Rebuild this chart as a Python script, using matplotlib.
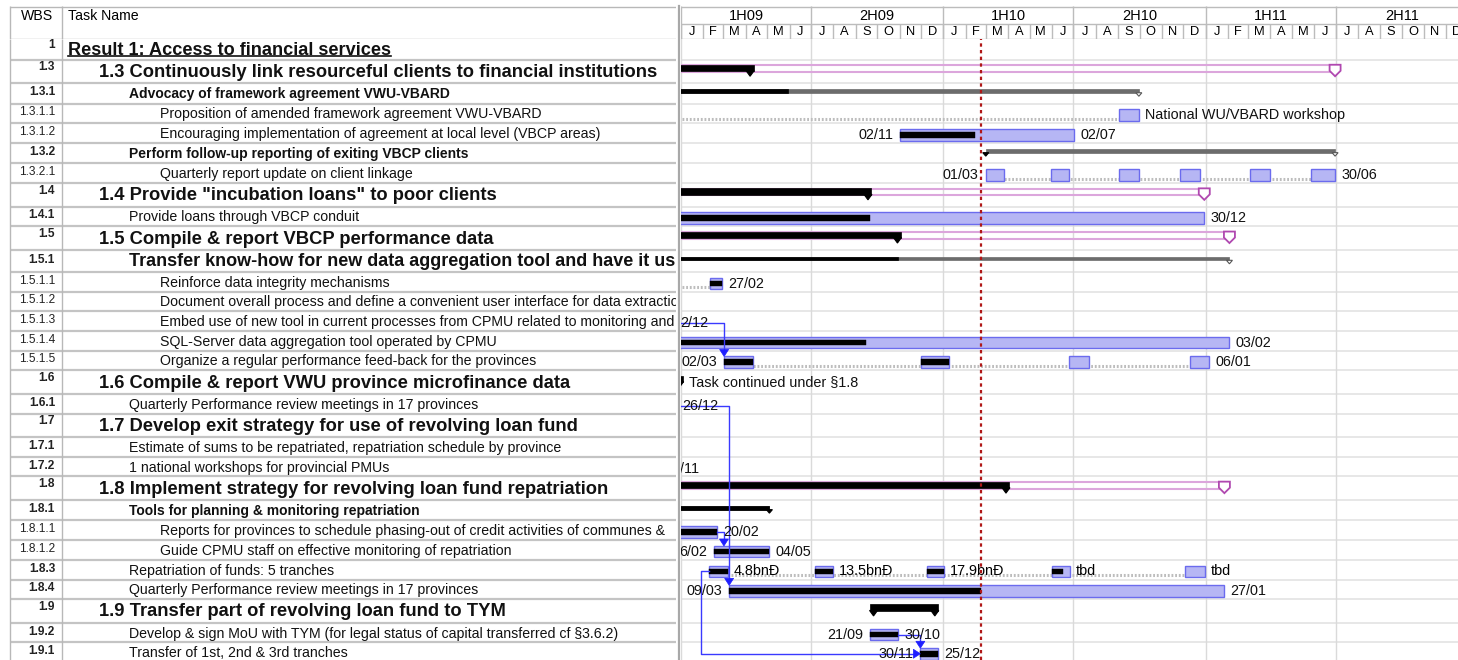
import datetime as dt
import numpy as np
import matplotlib
matplotlib.use('Agg')
import matplotlib.pyplot as plt
import matplotlib.dates as mdates
from matplotlib.patches import Rectangle, Polygon
from matplotlib.lines import Line2D
from matplotlib.transforms import offset_copy

plt.rcParams['font.family'] = ['Liberation Sans', 'DejaVu Sans']

D = dt.date

# ---- outline (table part) ----
wbs = ['1', '1.3', '1.3.1', '1.3.1.1', '1.3.1.2', '1.3.2', '1.3.2.1',
       '1.4', '1.4.1', '1.5', '1.5.1', '1.5.1.1', '1.5.1.2', '1.5.1.3',
       '1.5.1.4', '1.5.1.5', '1.6', '1.6.1', '1.7', '1.7.1', '1.7.2',
       '1.8', '1.8.1', '1.8.1.1', '1.8.1.2', '1.8.3', '1.8.4',
       '1.9', '1.9.2', '1.9.1']
task_names = [
    'Result 1: Access to financial services',
    '1.3 Continuously link resourceful clients to financial institutions',
    'Advocacy of framework agreement VWU-VBARD',
    'Proposition of amended framework agreement VWU-VBARD',
    'Encouraging implementation of agreement at local level (VBCP areas)',
    'Perform follow-up reporting of exiting VBCP clients',
    'Quarterly report update on client linkage',
    '1.4 Provide "incubation loans" to poor clients',
    'Provide loans through VBCP conduit',
    '1.5 Compile & report VBCP performance data',
    'Transfer know-how for new data aggregation tool and have it used by CPMU',
    'Reinforce data integrity mechanisms',
    'Document overall process and define a convenient user interface for data extraction',
    'Embed use of new tool in current processes from CPMU related to monitoring and reporting',
    'SQL-Server data aggregation tool operated by CPMU',
    'Organize a regular performance feed-back for the provinces',
    '1.6 Compile & report VWU province microfinance data',
    'Quarterly Performance review meetings in 17 provinces',
    '1.7 Develop exit strategy for use of revolving loan fund',
    'Estimate of sums to be repatriated, repatriation schedule by province',
    '1 national workshops for provincial PMUs',
    '1.8 Implement strategy for revolving loan fund repatriation',
    'Tools for planning & monitoring repatriation',
    'Reports for provinces to schedule phasing-out of credit activities of communes & municipalities',
    'Guide CPMU staff on effective monitoring of repatriation',
    'Repatriation of funds: 5 tranches',
    'Quarterly Performance review meetings in 17 provinces',
    '1.9 Transfer part of revolving loan fund to TYM',
    'Develop & sign MoU with TYM (for legal status of capital transferred cf §3.6.2)',
    'Transfer of 1st, 2nd & 3rd tranches',
]
row_kind = ['title', 'phase', 'group', 'sub', 'sub', 'group', 'sub',
            'phase', 'task', 'phase', 'group_big', 'sub', 'sub', 'sub',
            'sub', 'sub', 'phase', 'task', 'phase', 'task', 'task',
            'phase', 'group', 'sub', 'sub', 'task', 'task',
            'phase', 'task', 'task']

# ---- phase summaries: start, reached so far, finish ----
phase_wbs = ['1.3', '1.4', '1.5', '1.6', '1.8', '1.9']
phase_start = [D(2008, 6, 2), D(2008, 6, 2), D(2008, 6, 2), D(2008, 6, 2),
               D(2008, 6, 2), D(2009, 9, 21)]
phase_done = [D(2009, 4, 12), D(2009, 9, 23), D(2009, 11, 3), D(2009, 1, 4),
              D(2010, 4, 3), D(2009, 12, 25)]
phase_finish = [D(2011, 6, 30), D(2010, 12, 30), D(2011, 2, 3), D(2009, 1, 4),
                D(2011, 1, 27), D(2009, 12, 25)]
phase_note = ['', '', '', 'Task continued under §1.8', '', '']

# ---- sub-summaries ----
group_wbs = ['1.3.1', '1.3.2', '1.5.1', '1.8.1']
group_start = [D(2008, 6, 2), D(2010, 3, 1), D(2008, 6, 2), D(2008, 6, 2)]
group_done = [D(2009, 5, 30), D(2010, 3, 1), D(2009, 10, 30), D(2009, 5, 4)]
group_finish = [D(2010, 9, 30), D(2011, 6, 30), D(2011, 2, 3), D(2009, 5, 4)]

# ---- plain tasks ----
task_wbs = ['1.3.1.2', '1.4.1', '1.5.1.3', '1.5.1.4', '1.6.1', '1.7.2',
            '1.8.1.1', '1.8.1.2', '1.8.4', '1.9.2', '1.9.1']
task_start = [D(2009, 11, 2), D(2008, 6, 2), D(2008, 10, 1), D(2008, 6, 2),
              D(2008, 10, 1), D(2008, 10, 1), D(2008, 12, 1), D(2009, 2, 16),
              D(2009, 3, 9), D(2009, 9, 21), D(2009, 11, 30)]
task_finish = [D(2010, 7, 2), D(2010, 12, 30), D(2008, 12, 12), D(2011, 2, 3),
               D(2008, 12, 26), D(2008, 11, 30), D(2009, 2, 20), D(2009, 5, 4),
               D(2011, 1, 27), D(2009, 10, 30), D(2009, 12, 25)]
task_done = [D(2010, 2, 14), D(2009, 9, 21), D(2008, 12, 12), D(2009, 9, 15),
             D(2008, 12, 26), D(2008, 11, 30), D(2009, 2, 20), D(2009, 5, 4),
             D(2010, 2, 23), D(2009, 10, 30), D(2009, 12, 25)]

# ---- split tasks: (segment start, segment end, done up to) ----
split_wbs = ['1.3.1.1', '1.3.2.1', '1.5.1.1', '1.5.1.5', '1.8.3']
split_start = [D(2008, 6, 2), D(2010, 3, 1), D(2008, 6, 2), D(2009, 3, 2),
               D(2009, 2, 9)]
split_segments = [
    [(D(2010, 9, 2), D(2010, 9, 30), None)],
    [(D(2010, 3, 1), D(2010, 3, 26), None), (D(2010, 5, 31), D(2010, 6, 25), None),
     (D(2010, 9, 2), D(2010, 9, 30), None), (D(2010, 11, 26), D(2010, 12, 24), None),
     (D(2011, 3, 3), D(2011, 3, 31), None), (D(2011, 5, 27), D(2011, 6, 30), None)],
    [(D(2009, 2, 10), D(2009, 2, 27), D(2009, 2, 27))],
    [(D(2009, 3, 2), D(2009, 4, 11), D(2009, 4, 11)),
     (D(2009, 12, 1), D(2010, 1, 9), D(2010, 1, 9)),
     (D(2010, 6, 25), D(2010, 7, 23), None), (D(2010, 12, 10), D(2011, 1, 6), None)],
    [(D(2009, 2, 9), D(2009, 3, 7), D(2009, 3, 7)),
     (D(2009, 7, 6), D(2009, 7, 31), D(2009, 7, 31)),
     (D(2009, 12, 9), D(2010, 1, 2), D(2010, 1, 2)),
     (D(2010, 6, 1), D(2010, 6, 26), D(2010, 6, 16)),
     (D(2010, 12, 3), D(2010, 12, 31), None)],
]
split_dates_shown = [False, True, True, True, False]
split_note = ['National WU/VBARD workshop', '', '', '', '']
tranche_notes = ['4.8bnĐ', '13.5bnĐ', '17.9bnĐ', 'tbd', 'tbd']

# ---- dependencies ----
links = [('1.5.1.3', '1.5.1.5', 'FS'), ('1.6.1', '1.8.4', 'FS'),
         ('1.8.1.1', '1.8.1.2', 'FS'), ('1.9.2', '1.9.1', 'FS'),
         ('1.8.3', '1.9.1', 'SS')]

status_date = D(2010, 2, 23)
half_labels = ['1H09', '2H09', '1H10', '2H10', '1H11', '2H11']
month_letters = list('JFMAMJJASOND')

# ---- colours ----
BLUE_FILL = '#b6b6f4'
BLUE_EDGE = '#6b6bee'
PINK = '#dca6dc'
PURPLE = '#b048b0'
GREY_BAR = '#6c6c6c'
SPLIT_GREY = '#bdbdbd'
LINK = '#3a3aff'
LABEL_SIZE = 10.4

# ---- figure layout (pixel based) ----
W, H = 1458, 660
fig = plt.figure(figsize=(W / 100, H / 100), dpi=100)


def place(x0, y0, x1, y1):
    return fig.add_axes([x0 / W, 1 - y1 / H, (x1 - x0) / W, (y1 - y0) / H])


HEAD_TOP, BODY_TOP, GANTT_X, TBL_RIGHT = 6, 38.5, 681, 676
tbl = place(0, BODY_TOP, TBL_RIGHT, H)
gnt = place(GANTT_X, BODY_TOP, W, H)
tbl_head = place(0, HEAD_TOP, TBL_RIGHT, BODY_TOP)
gnt_head = place(GANTT_X, HEAD_TOP, W, BODY_TOP)
for a in (tbl, gnt, tbl_head, gnt_head):
    a.axis('off')

body_h = H - BODY_TOP
head_h = BODY_TOP - HEAD_TOP
t0 = mdates.date2num(D(2009, 1, 1))
span_days = 1081
DPP = span_days / (W - GANTT_X)   # days per pixel on the time scale

tbl.set_xlim(0, TBL_RIGHT)
tbl.set_ylim(body_h, 0)
tbl_head.set_xlim(0, TBL_RIGHT)
tbl_head.set_ylim(head_h, 0)
gnt.set_xlim(t0, t0 + span_days)
gnt.set_ylim(body_h, 0)
gnt_head.set_xlim(t0, t0 + span_days)
gnt_head.set_ylim(head_h, 0)

# row geometry from outline level
kind_height = {'title': 21, 'phase': 23.5, 'group': 20.5, 'group_big': 22,
               'task': 19.7, 'sub': 19.7}
tops = np.concatenate([[0], np.cumsum([kind_height[k] for k in row_kind])])
centers = (tops[:-1] + tops[1:]) / 2
row_y = dict(zip(wbs, centers))

# ---- table ----
name_style = {
    'title': dict(x=68, size=13.1, weight='bold'),
    'phase': dict(x=99, size=13.2, weight='bold'),
    'group': dict(x=129, size=10, weight='bold'),
    'group_big': dict(x=129, size=13, weight='bold'),
    'task': dict(x=129, size=10.2, weight='normal'),
    'sub': dict(x=160, size=10.2, weight='normal'),
}
tbl.hlines(tops[1:], 10, TBL_RIGHT, color='#c4c4c4', lw=1.6)
tbl.vlines([10, 62], 0, body_h, color='#b8b8b8', lw=1)
title_txt = None
name_txts = []
for code, name, kind, c in zip(wbs, task_names, row_kind, centers):
    st = name_style[kind]
    big = kind in ('title', 'phase')
    tbl.text(55, c - (4 if big else 1), code, ha='right', va='center',
             fontsize=8.6, weight='bold' if kind != 'sub' else 'normal',
             color='#222222')
    t = tbl.text(st['x'], c + 1, name, ha='left', va='center', fontsize=st['size'],
                 weight=st['weight'], color='#111111', clip_on=True)
    name_txts.append(t)
    if kind == 'title':
        title_txt = t

# table header
tbl_head.hlines([0.5, head_h], 10, TBL_RIGHT, color='#b8b8b8', lw=1)
tbl_head.vlines([10, 62], 0, head_h, color='#b8b8b8', lw=1)
tbl_head.text(37, 10, 'WBS', ha='center', va='center', fontsize=10.2)
tbl_head.text(68, 10, 'Task Name', ha='left', va='center', fontsize=10.2)
fig.add_artist(Line2D([679 / W] * 2, [0, 1 - HEAD_TOP / H],
                      transform=fig.transFigure, color='#a8a8a8', lw=1.6))

# ---- time scale header ----
half_starts = [D(2009 + i // 2, 1 + 6 * (i % 2), 1) for i in range(7)]
gnt_head.hlines([0.5, 17.5, head_h], t0, t0 + span_days, color='#bcbcbc', lw=1)
for i, lab in enumerate(half_labels):
    a, b = mdates.date2num(half_starts[i]), mdates.date2num(half_starts[i + 1])
    gnt_head.vlines(a, 0, head_h, color='#bcbcbc', lw=1)
    gnt_head.text((a + b) / 2, 10, lab, ha='center', va='center', fontsize=10.5,
                  clip_on=True)
for k in range(36):
    a = mdates.date2num(D(2009 + k // 12, k % 12 + 1, 1))
    b = mdates.date2num(D(2009 + (k + 1) // 12, (k + 1) % 12 + 1, 1))
    gnt_head.vlines(a, 17.5, head_h, color='#bcbcbc', lw=1)
    gnt_head.text((a + b) / 2, 26, month_letters[k % 12], ha='center',
                  va='center', fontsize=9.3, clip_on=True)

# ---- gantt body grid ----
for y in tops[1:]:
    gnt.axhline(y, color='#e3e3e3', lw=1.2, zorder=0)
for d in half_starts:
    gnt.axvline(mdates.date2num(d), color='#dadada', lw=1, zorder=0)


def num(d):
    return mdates.date2num(d)


def shifted(dx):
    return offset_copy(gnt.transData, fig=fig, x=dx, y=0, units='dots')


def label(x, y, s, side):
    if side == 'right':
        gnt.text(x, y, s, transform=shifted(6), ha='left', va='center',
                 fontsize=LABEL_SIZE, color='#111111', clip_on=True, zorder=6)
    else:
        gnt.text(x, y, s, transform=shifted(-7), ha='right', va='center',
                 fontsize=LABEL_SIZE, color='#111111', clip_on=True, zorder=6)


def cap(x, c, color, w=4.0, depth=5.0, edge=None):
    gnt.add_patch(Polygon([(x - w * DPP, c - 0.5), (x + w * DPP, c - 0.5),
                           (x, c + depth)], closed=True, fc=color,
                          ec=edge or color, lw=0.8, zorder=4))


# phase summaries
for code, s, d, f, note in zip(phase_wbs, phase_start, phase_done,
                               phase_finish, phase_note):
    c = row_y[code]
    s, d, f = num(s), num(d), num(f)
    if f > d:
        gnt.add_patch(Rectangle((s, c - 6), f - s, 6.5, fill=False, ec=PINK,
                                lw=1.5, zorder=2))
        gnt.add_patch(Polygon([(f - 5.5 * DPP, c - 6.5), (f + 5.5 * DPP, c - 6.5),
                               (f + 5.5 * DPP, c - 0.5), (f, c + 5),
                               (f - 5.5 * DPP, c - 0.5)], closed=True, fc='white',
                              ec=PURPLE, lw=1.3, zorder=4))
    gnt.add_patch(Rectangle((s, c - 6.5), d - s, 6.5, fc='black', ec='black',
                            lw=0.5, zorder=3))
    cap(s + 3.5 * DPP, c, 'black')
    cap(d - 3.5 * DPP, c, 'black')
    if note:
        label(d, c, note, 'right')

# sub-summaries
for code, s, d, f in zip(group_wbs, group_start, group_done, group_finish):
    c = row_y[code]
    s, d, f = num(s), num(d), num(f)
    gnt.add_patch(Rectangle((s, c - 4), f - s, 3.5, fc=GREY_BAR, ec=GREY_BAR,
                            lw=0.5, zorder=3))
    if d > s:
        gnt.add_patch(Rectangle((s, c - 4), d - s, 3.5, fc='black', ec='black',
                                lw=0.5, zorder=3))
    for x in (s, f):
        done = x <= d
        cap(x, c, 'black' if done else 'white', w=3, depth=3,
            edge='black' if done else '#555555')

span = {}

# plain task bars
for code, s, f, d in zip(task_wbs, task_start, task_finish, task_done):
    c = row_y[code]
    span[code] = (s, f)
    gnt.add_patch(Rectangle((num(s), c - 4), num(f) - num(s), 11.5, fc=BLUE_FILL,
                            ec=BLUE_EDGE, lw=1, zorder=3))
    gnt.add_patch(Rectangle((num(s), c - 1), num(d) - num(s), 5.5, fc='black',
                            ec='black', lw=0.3, zorder=4))
    label(num(s), c + 2, s.strftime('%d/%m'), 'left')
    label(num(f), c + 2, f.strftime('%d/%m'), 'right')

# split tasks
for code, s, segs, show, note in zip(split_wbs, split_start, split_segments,
                                     split_dates_shown, split_note):
    c = row_y[code]
    f = segs[-1][1]
    span[code] = (segs[0][0], f)
    gnt.plot([num(s), num(f)], [c + 5.5, c + 5.5], color=SPLIT_GREY, lw=2.2,
             ls=(0, (0.6, 0.6)), zorder=2, solid_capstyle='butt')
    for i, (a, b, d) in enumerate(segs):
        gnt.add_patch(Rectangle((num(a), c - 4), num(b) - num(a), 11.5,
                                fc=BLUE_FILL, ec=BLUE_EDGE, lw=1, zorder=3))
        if d is not None:
            gnt.add_patch(Rectangle((num(a), c - 1), num(d) - num(a), 5.5,
                                    fc='black', ec='black', lw=0.3, zorder=4))
        if code == '1.8.3':
            gnt.text(num(b), c + 1, tranche_notes[i], transform=shifted(6),
                     ha='left', va='center', fontsize=LABEL_SIZE, clip_on=True,
                     zorder=6)
    if show:
        label(num(s), c + 2, s.strftime('%d/%m'), 'left')
        label(num(f), c + 2, f.strftime('%d/%m'), 'right')
    if note:
        label(num(f), c + 2, note, 'right')

# dependency arrows
for pred, succ, kind in links:
    yp = row_y[pred] + 2
    cs = row_y[succ]
    if kind == 'FS':
        xp = num(span[pred][1])
        xa = max(num(span[succ][0]), xp + 7 * DPP)
        yt = cs - 4
        gnt.plot([xp, xa, xa], [yp, yp, yt - 6], color=LINK, lw=1, zorder=5)
        gnt.add_patch(Polygon([(xa - 4.5 * DPP, yt - 7), (xa + 4.5 * DPP, yt - 7),
                               (xa, yt)], closed=True, fc='#1f1fff', ec='#1f1fff',
                              lw=0.5, zorder=5))
    else:
        xp = num(span[pred][0])
        xs = num(span[succ][0])
        xl = xp - 8 * DPP
        ys = cs + 1.5
        gnt.plot([xp, xl, xl, xs - 6 * DPP], [yp - 0.5, yp - 0.5, ys, ys],
                 color=LINK, lw=1, zorder=5)
        gnt.add_patch(Polygon([(xs - 7 * DPP, ys - 4.5), (xs - 7 * DPP, ys + 4.5),
                               (xs, ys)], closed=True, fc='#1f1fff', ec='#1f1fff',
                              lw=0.5, zorder=5))

# status date
gnt.axvline(num(status_date), color='#b01818', lw=1.6, ls=(0, (1.5, 1.5)),
            zorder=7)

fig.canvas.draw()
renderer = fig.canvas.get_renderer()

# cut long names at the column edge, like the cell does
col_edge = tbl.transData.transform((TBL_RIGHT, 0))[0]
for t in name_txts:
    s = t.get_text()
    while t.get_window_extent(renderer).x1 > col_edge + 4 and len(s) > 1:
        s = s[:-1]
        t.set_text(s)
    t.set_text(s.rstrip())

# bar labels that run past the left edge of the time scale
g_left = gnt.transData.transform((t0, 0))[0]
to_data = gnt.transData.inverted()
for t in list(gnt.texts):
    bb = t.get_window_extent(renderer)
    if bb.x1 <= g_left + 1:
        t.remove()
    elif bb.x0 < g_left - 3:
        x_end = to_data.transform((bb.x1, 0))[0]
        t.set_transform(gnt.transData)
        t.set_x(x_end)
        t.set_horizontalalignment('right')
        s = t.get_text()
        while t.get_window_extent(renderer).x0 < g_left - 3 and len(s) > 1:
            s = s[1:]
            t.set_text(s)

# underline the result heading
bb = title_txt.get_window_extent(renderer)
inv = tbl.transData.inverted()
(ux0, uy), (ux1, _) = inv.transform([[bb.x0, bb.y0 + 2.5], [bb.x1, bb.y0 + 2.5]])
tbl.plot([ux0, ux1], [uy, uy], color='#111111', lw=1.2)

fig.savefig('out.png', dpi=100)
